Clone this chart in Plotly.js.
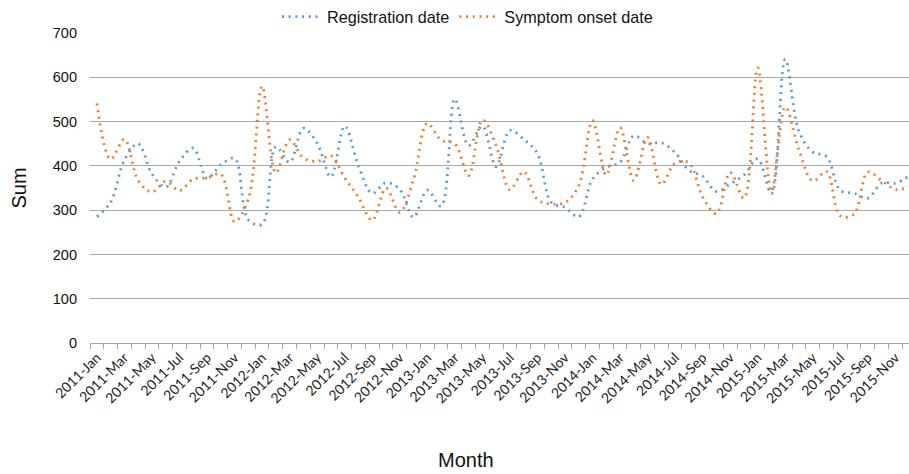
<!DOCTYPE html>
<html><head><meta charset="utf-8">
<script src="https://cdn.plot.ly/plotly-3.0.1.min.js"></script>
<style>html,body{margin:0;padding:0;overflow:hidden;background:#fff}#chart{width:930px;height:474px}</style>
</head><body><div id="chart"></div>
<script>
const months = [
 "2011-Jan","2011-Feb","2011-Mar","2011-Apr","2011-May","2011-Jun","2011-Jul","2011-Aug","2011-Sep","2011-Oct","2011-Nov","2011-Dec",
 "2012-Jan","2012-Feb","2012-Mar","2012-Apr","2012-May","2012-Jun","2012-Jul","2012-Aug","2012-Sep","2012-Oct","2012-Nov","2012-Dec",
 "2013-Jan","2013-Feb","2013-Mar","2013-Apr","2013-May","2013-Jun","2013-Jul","2013-Aug","2013-Sep","2013-Oct","2013-Nov","2013-Dec",
 "2014-Jan","2014-Feb","2014-Mar","2014-Apr","2014-May","2014-Jun","2014-Jul","2014-Aug","2014-Sep","2014-Oct","2014-Nov","2014-Dec",
 "2015-Jan","2015-Feb","2015-Mar","2015-Apr","2015-May","2015-Jun","2015-Jul","2015-Aug","2015-Sep","2015-Oct","2015-Nov","2015-Dec"
];
const registration = [
 285,318,413,450,382,352,410,440,372,402,417,278,
 268,443,408,485,451,375,490,400,338,362,347,284,
 345,309,551,446,490,398,480,460,428,318,306,285,
 370,397,408,468,450,452,430,390,377,342,359,379,
 416,337,641,478,431,421,345,338,327,361,361,377
];
const symptomOnset = [
 541,415,460,367,341,365,344,370,373,381,274,325,
 580,384,459,418,410,423,373,329,277,350,295,369,
 496,458,450,378,504,446,346,387,324,314,317,355,
 502,379,486,367,464,358,406,407,330,292,385,327,
 621,342,533,436,366,387,287,291,386,367,347,352
];
const yTicks = [0,100,200,300,400,500,600,700];
const seriesNames = ["Registration date","Symptom onset date"];

const xIndex = months.map((m,i)=>i);
const labelIdx = xIndex.filter(i=>i%2===0);
const labelText = labelIdx.map(i=>months[i]);

const lineStyle = (c)=>({color:c,width:2.8,dash:"2px,4.7px",shape:"spline",smoothing:1});
const traces = [
 {x:xIndex,y:registration,name:seriesNames[0],type:"scatter",mode:"lines",line:lineStyle("#5B9BD5")},
 {x:xIndex,y:symptomOnset,name:seriesNames[1],type:"scatter",mode:"lines",line:lineStyle("#ED7D31")}
];
const layout = {
 width:930,height:474,
 margin:{l:90,r:14,t:33,b:131,autoexpand:false},
 paper_bgcolor:"#fff",plot_bgcolor:"#fff",
 font:{family:"Liberation Sans, Arial, sans-serif",color:"#000"},
 showlegend:true,
 legend:{orientation:"h",x:0.457,xanchor:"center",y:0.995,yanchor:"bottom",
   font:{size:16.2,family:"Liberation Sans, Arial, sans-serif",color:"#111"},itemwidth:40,traceorder:"normal"},
 xaxis:{type:"linear",range:[-0.5,59.5],tickmode:"array",tickvals:labelIdx,ticktext:labelText,
   tickangle:-45,ticks:"",showgrid:false,zeroline:false,showline:true,linecolor:"#a6a6a6",linewidth:1,
   tickfont:{family:"Lato, Carlito, sans-serif",size:14,color:"#222"},
   minor:{ticks:"outside",tickmode:"linear",tick0:-0.5,dtick:1,ticklen:5,tickcolor:"#a6a6a6",tickwidth:1,showgrid:false},
   automargin:false,fixedrange:true},
 yaxis:{range:[0,700],tickmode:"array",tickvals:yTicks,ticks:"",showgrid:true,gridcolor:"#a9a9a9",gridwidth:1,
   zeroline:false,showline:false,ticklabelstandoff:12,
   tickfont:{size:14.5,color:"#111"},
   title:{text:"Sum",font:{size:20,color:"#111"},standoff:20},automargin:false,fixedrange:true},
 annotations:[{text:"Month",xref:"paper",yref:"paper",x:(466-90)/826,y:-0.378,xanchor:"center",yanchor:"middle",
   showarrow:false,font:{size:20,color:"#111"}}]
};
Plotly.newPlot("chart",traces,layout,{displayModeBar:false,staticPlot:true});
</script>
</body></html>
